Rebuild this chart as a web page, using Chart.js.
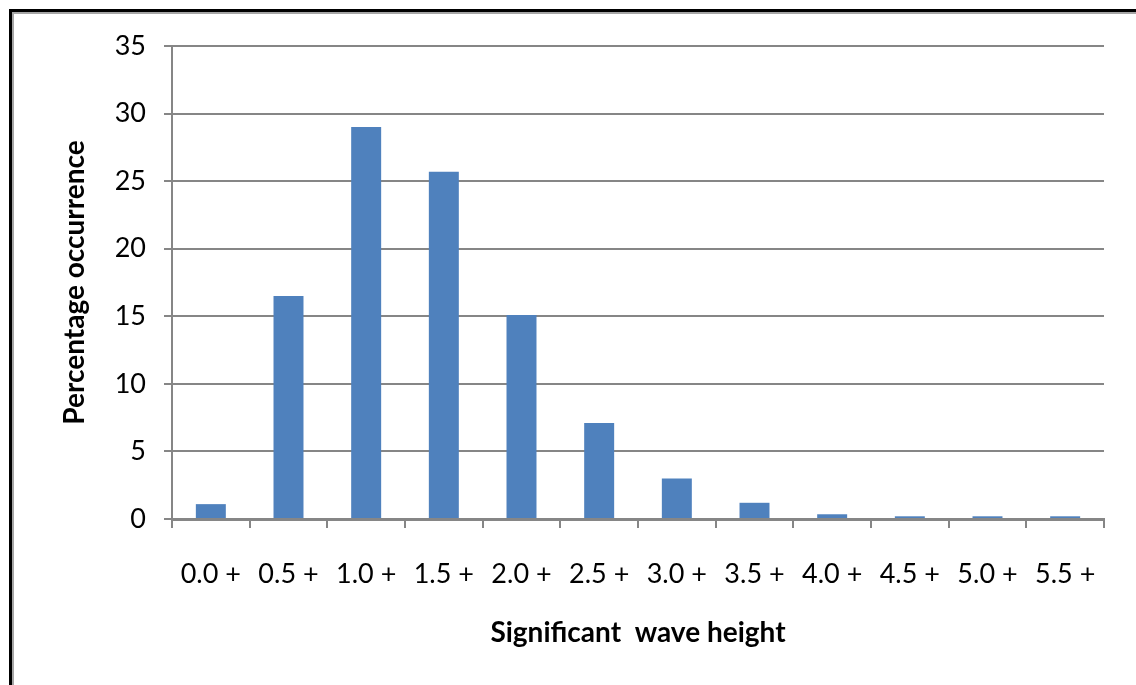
<!doctype html>
<html>

<head>
    <title>Significant wave height</title>
    <script src="https://cdn.jsdelivr.net/npm/chart.js"></script>
</head>

<style>
    body {
        margin: 0;
        overflow: hidden;
        background: white;
    }

    #quadro {
        position: relative;
        width: 1136px;
        height: 685px;
    }

    .moldura {
        position: absolute;
        left: 9px;
        top: 9px;
        width: 2000px;
        height: 2000px;
        border-left: 3px solid #000;
        border-top: 3px solid #000;
    }

    .moldura div {
        width: 100%;
        height: 100%;
        border-left: 2px solid #a6a6a6;
        border-top: 2px solid #a6a6a6;
    }

    canvas {
        position: absolute;
        left: 0;
        top: 0;
    }
</style>

<body>
    <div id="quadro">
        <div class="moldura"><div></div></div>
        <canvas id="ondas" width="1136" height="685"></canvas>
    </div>

    <script>
        // classes de altura (m) e % de ocorrencia
        var alturas = ['0.0 +', '0.5 +', '1.0 +', '1.5 +', '2.0 +', '2.5 +', '3.0 +', '3.5 +', '4.0 +', '4.5 +', '5.0 +', '5.5 +'];
        var ocorrencia = [1.1, 16.5, 29.0, 25.7, 15.1, 7.1, 3.0, 1.2, 0.35, 0.2, 0.2, 0.2];
        var yMin = 0;
        var yMax = 35;
        var yPasso = 5;

        var cinza = '#868686';

        var grafico = new Chart(document.getElementById('ondas').getContext('2d'), {
            type: 'bar',
            data: {
                labels: alturas,
                datasets: [{
                    label: 'Percentage occurrence',
                    data: ocorrencia,
                    backgroundColor: '#4f81bd',
                    borderWidth: 0,
                    categoryPercentage: 1,
                    barPercentage: 0.386
                }]
            },
            options: {
                responsive: false,
                animation: false,
                layout: {
                    padding: { left: 58, top: 46, right: 32, bottom: 35 }
                },
                plugins: {
                    legend: { display: false },
                    tooltip: { enabled: false }
                },
                scales: {
                    x: {
                        afterFit: function (escala) { escala.height = 131; },
                        grid: {
                            offset: true,
                            drawOnChartArea: false,
                            drawTicks: true,
                            tickLength: 9,
                            color: cinza,
                            lineWidth: 2
                        },
                        border: { color: cinza, width: 3 },
                        ticks: {
                            color: '#000',
                            padding: 30,
                            maxRotation: 0,
                            font: { family: 'Lato', size: 27 }
                        },
                        title: {
                            display: true,
                            text: 'Significant  wave height',
                            color: '#000',
                            padding: 0,
                            font: { family: 'Lato', size: 28, weight: 'bold' }
                        }
                    },
                    y: {
                        min: yMin,
                        max: yMax,
                        afterFit: function (escala) { escala.width = 114; },
                        grid: {
                            color: cinza,
                            lineWidth: 2,
                            tickLength: 8
                        },
                        border: { color: cinza, width: 2 },
                        ticks: {
                            stepSize: yPasso,
                            color: '#000',
                            padding: 18,
                            font: { family: 'Lato', size: 27 }
                        },
                        title: {
                            display: true,
                            text: 'Percentage occurrence',
                            color: '#000',
                            padding: 0,
                            font: { family: 'Lato', size: 28, weight: 'bold' }
                        }
                    }
                }
            }
        });
    </script>
</body>

</html>
